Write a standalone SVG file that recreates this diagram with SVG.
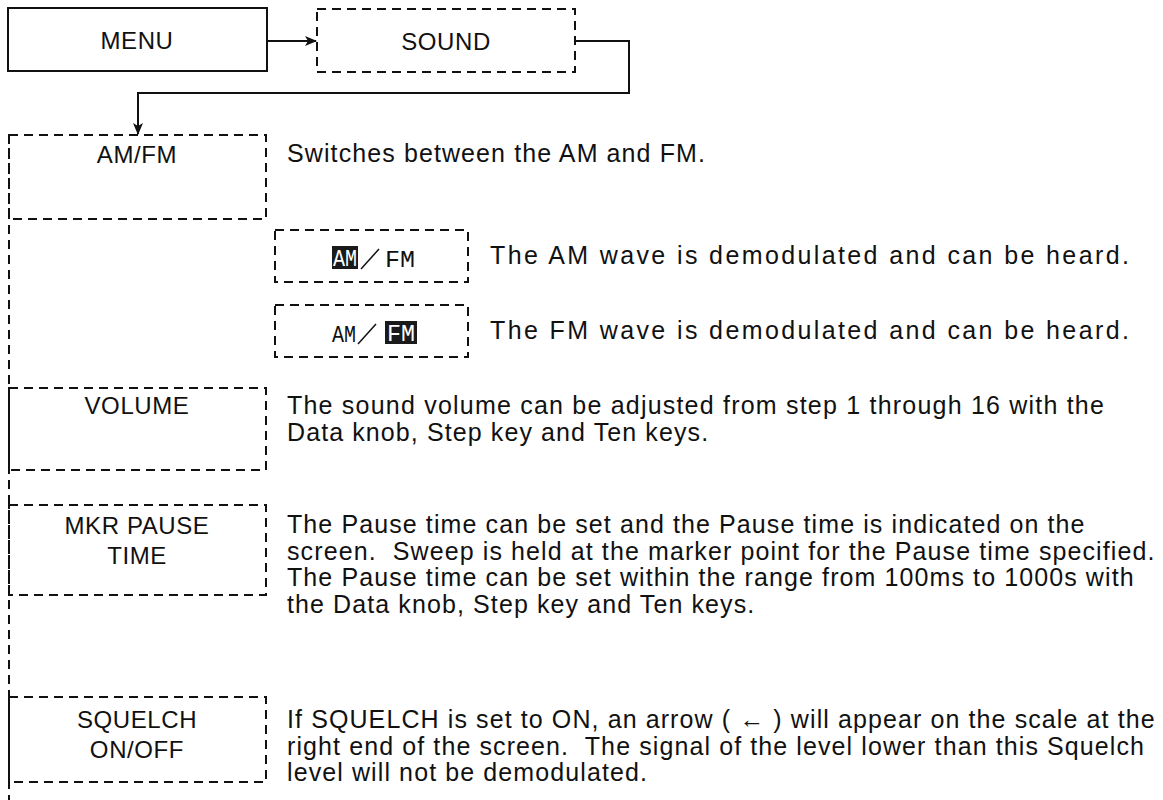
<svg xmlns="http://www.w3.org/2000/svg" width="1163" height="800" viewBox="0 0 1163 800">
<style>
.box{fill:none;stroke:#111;stroke-width:2}
.dash{fill:none;stroke:#111;stroke-width:2;stroke-dasharray:9 6}
.con{fill:none;stroke:#111;stroke-width:2}
.lbl{font-family:"Liberation Sans",Arial,sans-serif;font-size:24px;letter-spacing:0.6px;fill:#111;text-anchor:middle}
.txt{font-family:"Liberation Sans",Arial,sans-serif;font-size:25px;letter-spacing:1.1px;fill:#111}
.lcd{font-family:"Liberation Mono","DejaVu Sans Mono",monospace;font-size:23px;fill:#111}
</style>
<defs>
<marker id="ah" markerWidth="12" markerHeight="10" refX="11" refY="5" orient="auto" markerUnits="userSpaceOnUse">
<path d="M0,0 L12,5 L0,10 L3,5 Z" fill="#111"/>
</marker>
</defs>
<rect width="1163" height="800" fill="#fff"/>
<g id="connectors">
<line class="con" x1="267" y1="41" x2="316" y2="41" marker-end="url(#ah)"/>
<polyline class="con" points="575,41 629,41 629,93 138,93 138,134" marker-end="url(#ah)"/>
<line class="dash" x1="9" y1="135" x2="9" y2="800"/>
</g>
<g id="menu">
<rect class="box" x="8" y="8" width="259" height="63"/>
<text class="lbl" x="137" y="49">MENU</text>
</g>
<g id="sound">
<rect class="dash" x="317" y="9" width="258" height="63"/>
<text class="lbl" x="446" y="50">SOUND</text>
</g>
<g id="amfm">
<rect class="dash" x="9" y="135" width="257" height="84"/>
<text class="lbl" x="137" y="163">AM/FM</text>
<text class="txt" x="287" y="162">Switches between the AM and FM.</text>
</g>
<g id="am-select">
<rect class="dash" x="275" y="230" width="193" height="52"/>
<rect x="332" y="246" width="26" height="23" fill="#1a1a1a"/>
<text class="lcd" x="333" y="266" style="fill:#fff" textLength="24" lengthAdjust="spacingAndGlyphs">AM</text>
<line x1="361" y1="269" x2="379" y2="249" stroke="#111" stroke-width="1.5"/>
<text class="lcd" x="385" y="267" textLength="30" lengthAdjust="spacingAndGlyphs">FM</text>
<text class="txt" x="490" y="264" textLength="640" lengthAdjust="spacing">The AM wave is demodulated and can be heard.</text>
</g>
<g id="fm-select">
<rect class="dash" x="275" y="305" width="193" height="52"/>
<text class="lcd" x="332" y="342" textLength="24" lengthAdjust="spacingAndGlyphs">AM</text>
<line x1="358" y1="344" x2="376" y2="324" stroke="#111" stroke-width="1.5"/>
<rect x="385" y="321" width="32" height="23" fill="#1a1a1a"/>
<text class="lcd" x="387" y="341" style="fill:#fff" textLength="28" lengthAdjust="spacingAndGlyphs">FM</text>
<text class="txt" x="490" y="339" textLength="640" lengthAdjust="spacing">The FM wave is demodulated and can be heard.</text>
</g>
<g id="volume">
<rect class="dash" x="9" y="388" width="257" height="82"/>
<text class="lbl" x="137" y="414">VOLUME</text>
<text class="txt" x="287" y="414" textLength="818" lengthAdjust="spacing">The sound volume can be adjusted from step 1 through 16 with the</text>
<text class="txt" x="287" y="441">Data knob, Step key and Ten keys.</text>
</g>
<g id="mkr">
<rect class="dash" x="9" y="505" width="257" height="90"/>
<text class="lbl" x="137" y="534">MKR PAUSE</text>
<text class="lbl" x="137" y="564">TIME</text>
<text class="txt" x="287" y="533">The Pause time can be set and the Pause time is indicated on the</text>
<text class="txt" x="287" y="560" xml:space="preserve">screen.  Sweep is held at the marker point for the Pause time specified.</text>
<text class="txt" x="287" y="586">The Pause time can be set within the range from 100ms to 1000s with</text>
<text class="txt" x="287" y="613">the Data knob, Step key and Ten keys.</text>
</g>
<g id="squelch">
<rect class="dash" x="9" y="697" width="257" height="85"/>
<text class="lbl" x="137" y="728">SQUELCH</text>
<text class="lbl" x="137" y="758">ON/OFF</text>
<text class="txt" x="287" y="728" xml:space="preserve">If SQUELCH is set to ON, an arrow ( ← ) will appear on the scale at the</text>
<text class="txt" x="287" y="755" xml:space="preserve">right end of the screen.  The signal of the level lower than this Squelch</text>
<text class="txt" x="287" y="781">level will not be demodulated.</text>
</g>
</svg>
